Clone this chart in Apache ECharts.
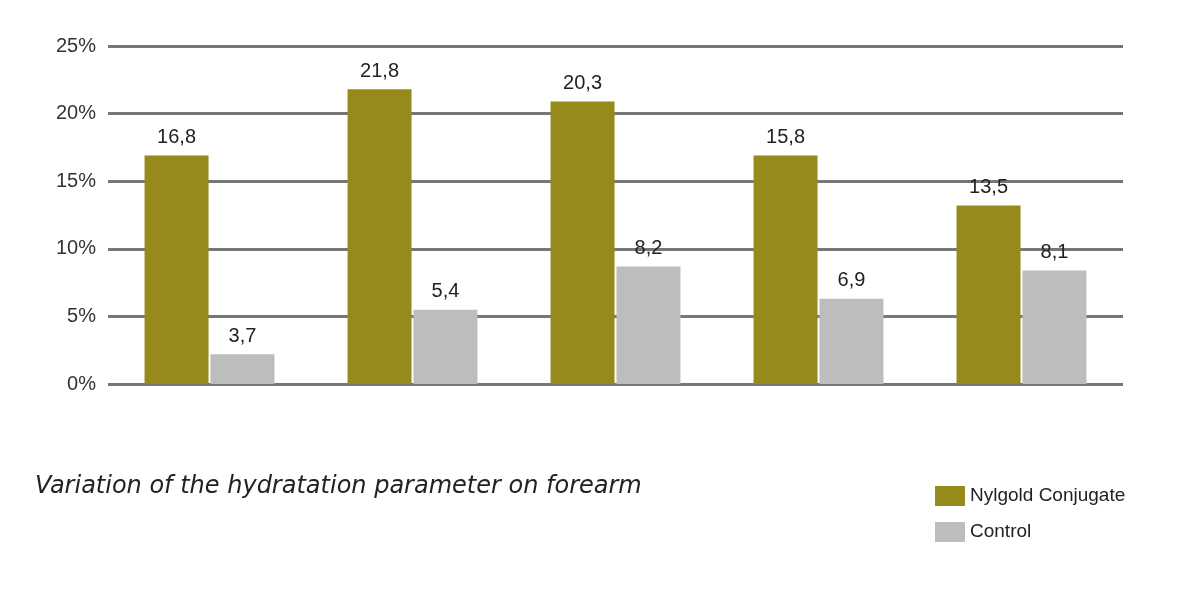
<!DOCTYPE html>
<html><head><meta charset="utf-8">
<script src="https://cdn.jsdelivr.net/npm/echarts@6/dist/echarts.min.js"></script>
<style>html,body{margin:0;background:#fff}#c{width:1194px;height:591px}</style>
</head><body><div id="c"></div>
<script>
const categories = ['A','B','C','D','E'];
const nylgoldValues = [16.9, 21.8, 20.9, 16.9, 13.2];
const controlValues = [2.2, 5.5, 8.7, 6.3, 8.4];
const nylgoldLabels = ['16,8','21,8','20,3','15,8','13,5'];
const controlLabels = ['3,7','5,4','8,2','6,9','8,1'];
const yTicks = [0,5,10,15,20,25];

const chart = echarts.init(document.getElementById('c'));
const lbl = arr => ({show:true, position:'top', distance:8, fontSize:20, color:'#222',
  fontFamily:'Liberation Sans', formatter:p=>arr[p.dataIndex]});
chart.setOption({
  animation:false,
  grid:{left:105, right:46, top:46, bottom:207},
  xAxis:[{type:'category', data:categories, show:false},
         {type:'category', data:categories, show:false}],
  yAxis:{type:'value', min:0, max:25, interval:5,
    axisLabel:{formatter:v=>v+'%', fontSize:20, color:'#333', fontFamily:'Liberation Sans', margin:12},
    splitLine:{lineStyle:{color:'#777', width:3}}},
  legend:{orient:'vertical', left:930, top:481, itemWidth:30, itemHeight:20, itemGap:16, icon:'rect',
    textStyle:{fontSize:19, color:'#222', fontFamily:'Liberation Sans'},
    data:['Nylgold Conjugate','Control']},
  series:[
    {name:'Nylgold Conjugate', type:'bar', data:nylgoldValues, barWidth:64, barGap:'3%',
      itemStyle:{color:'#968a1a'}, label:lbl(nylgoldLabels), z:3},
    {name:'Control', type:'bar', data:controlValues, barWidth:64,
      itemStyle:{color:'#bdbdbd'}, label:lbl(controlLabels), z:3}
  ],
  graphic:[{type:'text', left:35, top:475, style:{text:'Variation of the hydratation parameter on forearm',
    font:'oblique 24px "DejaVu Sans"', fill:'#222'}}]
});
// adjust grid so category spacing matches reference (~203px)
chart.setOption({grid:{left:108, right:71}});
</script></body></html>
